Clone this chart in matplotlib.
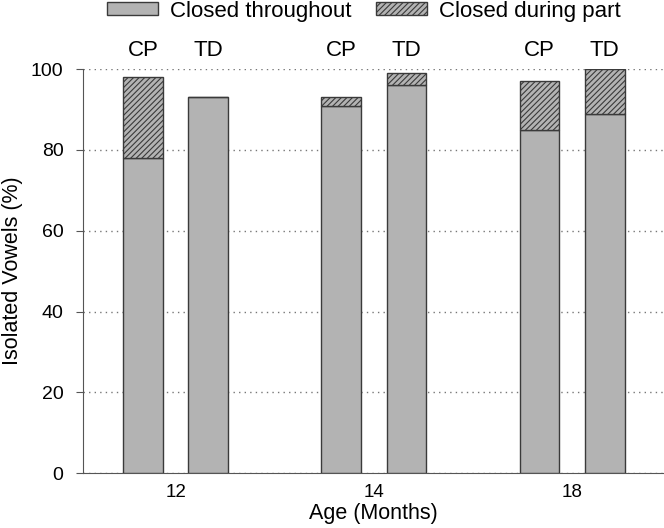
import numpy as np
import matplotlib.pyplot as plt
from matplotlib.patches import Patch

# Data
ages = ['12', '14', '18']
groups = ['CP', 'TD']
throughout_cp = [78, 91, 85]
throughout_td = [93, 96, 89]
during_cp = [20, 2, 12]
during_td = [0, 3, 11]

plt.rcParams['font.family'] = ['Liberation Sans', 'DejaVu Sans']
plt.rcParams['hatch.linewidth'] = 0.8

fig = plt.figure(figsize=(6.64, 5.28), dpi=100)
ax = fig.add_axes([0.125, 0.104, 0.874, 0.765])

x = np.arange(len(ages))
w = 0.2
off = 0.165
fill = '#b3b3b3'
edge = '#3a3a3a'

for pos, thr, dur in [(x - off, throughout_cp, during_cp), (x + off, throughout_td, during_td)]:
    ax.bar(pos, thr, w, color=fill, edgecolor=edge, linewidth=1, zorder=3)
    ax.bar(pos, dur, w, bottom=thr, color=fill, edgecolor=edge, linewidth=1,
           hatch='//////', zorder=3)

# group labels above bars
for i in range(len(ages)):
    ax.text(x[i] - off, 104.7, groups[0], ha='center', va='center', fontsize=16)
    ax.text(x[i] + off, 104.7, groups[1], ha='center', va='center', fontsize=16)

ax.set_xlim(-0.467, 2.46)
ax.set_ylim(0, 100)
ax.set_xticks(x)
ax.set_xticklabels(ages, fontsize=13.5)
ax.set_yticks(range(0, 101, 20))
ax.tick_params(axis='y', labelsize=14, length=5, pad=9, color='#555555')
ax.tick_params(axis='x', length=0, pad=8)
ax.yaxis.grid(True, linestyle=(0, (1, 3)), color='#777777', linewidth=1, zorder=0)
ax.spines['top'].set_visible(False)
ax.spines['right'].set_visible(False)
ax.spines['left'].set_color('#555555')
ax.spines['bottom'].set_color('#555555')

ax.set_xlabel('Age (Months)', fontsize=15.5, labelpad=1)
ax.set_ylabel('Isolated Vowels (%)', fontsize=15.5, labelpad=6)

handles = [Patch(facecolor=fill, edgecolor=edge, label='Closed throughout'),
           Patch(facecolor=fill, edgecolor=edge, hatch='//////', label='Closed during part')]
fig.legend(handles=handles, loc='center', bbox_to_anchor=(0.548, 0.979), ncol=2,
           frameon=False, fontsize=16, handlelength=2.3, handleheight=0.5,
           handletextpad=0.55, columnspacing=1.1, borderaxespad=0)

fig.savefig('out.png', dpi=100)
